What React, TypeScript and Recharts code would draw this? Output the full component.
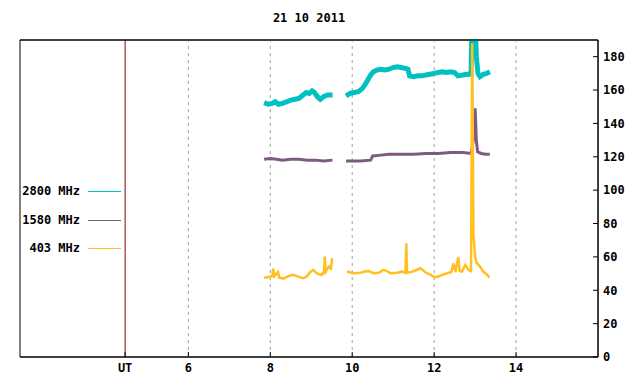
import React from 'react';
import { LineChart, Line, XAxis, YAxis, ReferenceLine, ReferenceArea, Legend } from 'recharts';

const FONT = '"DejaVu Sans Mono", "Liberation Mono", monospace';

// x axis is in hours UT; the "UT" tick marks the start of the day column
const X_MIN = 1.89;
const X_MAX = 16;
const xTicks = [4.456, 6, 8, 10, 12, 14];
const xTickLabels = ['UT', '6', '8', '10', '12', '14'];
const gridHours = [6, 8, 10, 12, 14];
const yTicks = [0, 20, 40, 60, 80, 100, 120, 140, 160, 180];

const seriesNames = ['2800 MHz', '1580 MHz', '403 MHz'];
const seriesColors = ['#00c0c0', '#7b5b7f', '#ffc020'];

// 2800 MHz
const hours2800 = [7.85, 7.95, 8.05, 8.12, 8.2, 8.3, 8.4, 8.5, 8.6, 8.7, 8.8, 8.88, 8.95, 9.02, 9.08, 9.15, 9.22, 9.3, 9.4, 9.52,
  9.68,
  9.85, 9.95, 10.05, 10.15, 10.25, 10.32, 10.38, 10.45, 10.52, 10.6, 10.7, 10.8, 10.9, 11.0, 11.1, 11.2, 11.3, 11.36, 11.4,
  11.5, 11.6, 11.7, 11.8, 11.9, 12.0, 12.1, 12.2, 12.3, 12.4, 12.5, 12.58, 12.7, 12.8, 12.9, 12.93, 12.97, 13.0, 13.03,
  13.07, 13.12, 13.2, 13.28, 13.36];
const flux2800 = [152.5, 151.5, 152, 153, 151.5, 152, 153, 154, 154.5, 155, 157, 158.5, 158, 159.5, 158.5, 156, 154.5, 156, 157, 157,
  null,
  156.5, 158, 158.5, 159, 161, 163.5, 166, 169, 171, 172, 172.5, 172, 172.5, 173.5, 174, 173.5, 173, 172.5, 168.5,
  168, 168.5, 168.5, 169, 169.5, 170, 170.5, 171, 170.5, 171, 170.5, 168.5, 169, 169.5, 169.5, 205, 210, 200, 180,
  170, 168, 169.5, 170, 171];

// 1580 MHz
const hours1580 = [7.85, 8.0, 8.15, 8.3, 8.5, 8.7, 8.9, 9.1, 9.3, 9.52,
  9.68,
  9.85, 10.0, 10.2, 10.45, 10.5, 10.7, 10.9, 11.2, 11.5, 11.8, 12.1, 12.4, 12.7, 12.9, 12.96, 13.0, 13.03, 13.06,
  13.15, 13.25, 13.36];
const flux1580 = [118.5, 119, 118.5, 118, 118.5, 118.5, 118, 118, 117.5, 118,
  null,
  117.5, 117.5, 117.5, 118, 120.5, 121, 121.5, 121.5, 121.5, 122, 122, 122.5, 122.5, 122, 130, 149, 130, 123,
  122, 121.5, 121.5];

// 403 MHz
const hours403 = [7.85, 7.95, 8.05, 8.07, 8.1, 8.19, 8.22, 8.32, 8.44, 8.56, 8.68, 8.8, 8.89, 8.97, 9.05, 9.13, 9.25, 9.31, 9.33,
  9.35, 9.43, 9.48, 9.51,
  9.68,
  9.87, 10.03, 10.2, 10.31, 10.4, 10.52, 10.65, 10.76, 10.85, 10.93, 11.1, 11.21, 11.3, 11.32, 11.34, 11.45, 11.55, 11.66,
  11.75, 11.82, 11.9, 11.98, 12.08, 12.15, 12.31, 12.42, 12.47, 12.52, 12.59, 12.62, 12.68, 12.76, 12.84, 12.9, 12.93,
  12.96, 13.0, 13.04, 13.12, 13.2, 13.28, 13.35];
const flux403 = [47.5, 48, 48.5, 53, 48.5, 51, 47.5, 47, 48.5, 49.2, 48.2, 47.2, 48.2, 50.8, 52.2, 50.2, 49.2, 51, 60.2,
  51, 54.2, 53, 59.2,
  null,
  51.2, 50.2, 50.5, 51.2, 51.5, 50.2, 50.5, 52.2, 51.5, 50.2, 50.5, 51.2, 50.5, 68.2, 50.5, 51, 52, 53.2,
  51.5, 50.2, 49.5, 48.2, 48, 48.8, 50.2, 51, 56, 51, 60, 51.5, 51.2, 55.2, 52.2, 51.5, 188,
  73, 60, 56.2, 54.2, 51.2, 49.6, 47.6];

const toRows = (hs: number[], vs: (number | null)[]) => hs.map((h, i) => ({ h, v: vs[i] }));

const rows2800 = toRows(hours2800, flux2800);
const rows1580 = toRows(hours1580, flux1580);
const rows403 = toRows(hours403, flux403);

const tickStyle = { fill: '#000', fontFamily: FONT, fontSize: 12, fontWeight: 'bold' as const };

// legend sits in the empty left column, label right-aligned with a short line sample
const renderLegend = () => (
  <div style={{ position: 'relative', width: 125, height: 90 }}>
    {seriesNames.map((name, i) => (
      <div key={name} style={{ position: 'absolute', left: 0, top: i * 28.5, width: 125, height: 14 }}>
        <span style={{ position: 'absolute', right: 45, top: 0, lineHeight: '14px', fontFamily: FONT, fontSize: 12, fontWeight: 'bold', color: '#000', whiteSpace: 'nowrap' }}>
          {name}
        </span>
        <span style={{ position: 'absolute', left: 88, top: 7, width: 33, height: 1, background: seriesColors[i] }} />
      </div>
    ))}
  </div>
);

export default function App() {
  return (
    <div style={{ position: 'absolute', left: 0, top: 0, width: 640, height: 384, background: '#fff' }}>
      <div style={{ position: 'absolute', left: 0, top: 11, width: 618, textAlign: 'center', fontFamily: FONT, fontSize: 12, fontWeight: 'bold', color: '#000' }}>
        21 10 2011
      </div>
      <LineChart width={640} height={384} margin={{ top: 39, right: 0, bottom: 0, left: 20 }}>
        <XAxis
          dataKey="h"
          type="number"
          domain={[X_MIN, X_MAX]}
          ticks={xTicks}
          interval={0}
          allowDataOverflow
          height={27}
          stroke="#000"
          tickSize={-5}
          tickMargin={11}
          tick={tickStyle}
          tickFormatter={(v: number) => xTickLabels[xTicks.indexOf(v)] ?? ''}
        />
        <XAxis
          xAxisId="top"
          orientation="top"
          dataKey="h"
          type="number"
          domain={[X_MIN, X_MAX]}
          ticks={gridHours}
          interval={0}
          allowDataOverflow
          height={1}
          stroke="#000"
          tickSize={-5}
          tick={false}
        />
        <YAxis
          orientation="right"
          type="number"
          domain={[0, 190]}
          ticks={yTicks}
          interval={0}
          allowDataOverflow
          width={42}
          stroke="#000"
          tickSize={-5}
          tickMargin={10}
          tick={tickStyle}
        />
        {gridHours.map((g) => (
          <ReferenceLine key={g} x={g} stroke="#a0a0a0" strokeDasharray="3 4" />
        ))}
        <ReferenceArea x1={X_MIN} x2={X_MAX} y1={0} y2={190} fill="none" stroke="#000" strokeWidth={1} />
        <ReferenceLine x={4.456} stroke="#8b0000" strokeWidth={1} />
        <Legend
          layout="horizontal"
          align="center"
          verticalAlign="middle"
          content={renderLegend}
          wrapperStyle={{ left: 0, top: 184, width: 125, height: 90 }}
        />
        <Line data={rows2800} dataKey="v" name={seriesNames[0]} type="linear" stroke={seriesColors[0]} strokeWidth={5} dot={false} isAnimationActive={false} />
        <Line data={rows1580} dataKey="v" name={seriesNames[1]} type="linear" stroke={seriesColors[1]} strokeWidth={3} dot={false} isAnimationActive={false} />
        <Line data={rows403} dataKey="v" name={seriesNames[2]} type="linear" stroke={seriesColors[2]} strokeWidth={2.5} dot={false} isAnimationActive={false} />
      </LineChart>
    </div>
  );
}
